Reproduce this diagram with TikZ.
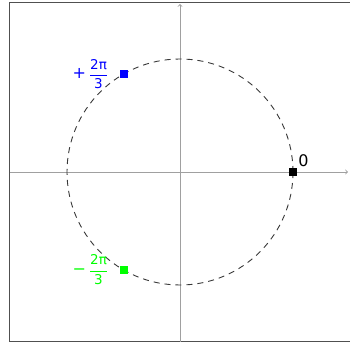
\documentclass[tikz,border=0pt]{standalone}
\usepackage{amsmath}
\usepackage{fontspec}
\setmainfont{DejaVu Sans}
\usetikzlibrary{positioning}
\definecolor{axisgray}{HTML}{A0A0A0}
\definecolor{framegray}{HTML}{505050}
\definecolor{circledark}{HTML}{383838}
\newcommand{\phasetext}{\fontsize{16}{19}\selectfont}
\newcommand{\fractext}{\fontsize{13.5}{16}\selectfont}

\begin{document}
\begin{tikzpicture}[x=1pt,y=1pt,font=\phasetext,
  marker/.style={draw=none,fill=#1,minimum size=8pt,inner sep=0pt},
  axisline/.style={->,color=axisgray,line width=0.9pt}]
\useasboundingbox (-180,-172) rectangle (170,172);
% frame, open on the right
\draw[framegray,line width=1pt] (170,169.5) -- (-170,169.5) -- (-170,-170) -- (170,-170);

% axes
\coordinate (xstart) at (-170,0);
\coordinate (xend) at (168,0);
\coordinate (ystart) at (0,-170);
\coordinate (yend) at (0,168);
\draw[axisline] (xstart) -- (xend);
\draw[axisline] (ystart) -- (yend);

\draw[circledark,dash pattern=on 6pt off 5pt,line width=0.9pt] (0,0) circle (113);

\node[marker=black] (zero) at (0:113) {};
\node[marker=blue] (plus) at (120:113) {};
\node[marker=green] (minus) at (240:113) {};

\node[anchor=south west,inner sep=1pt] (zerolab) at (zero.north east) {0};
\node[left=8pt of plus,text=blue,inner sep=3pt] (pluslab) {+\kern3pt{\fractext$\dfrac{\text{2π}}{\text{3}}$}};
\node[left=8pt of minus,text=green,inner sep=3pt] (minuslab) {−\kern3pt{\fractext$\dfrac{\text{2π}}{\text{3}}$}};
\end{tikzpicture}
\end{document}
